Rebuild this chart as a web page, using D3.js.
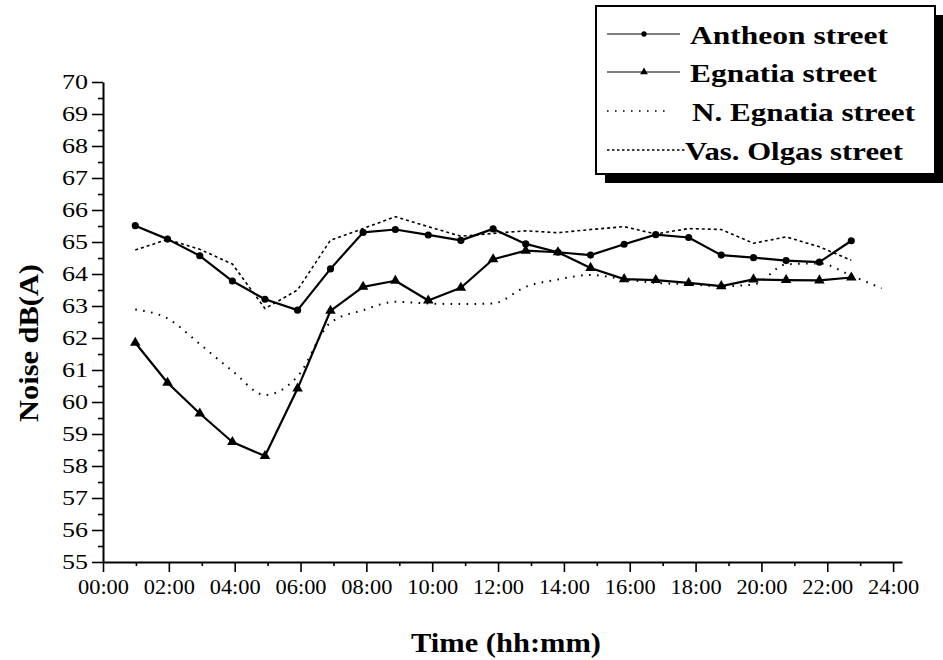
<!DOCTYPE html>
<html>
<head>
<meta charset="utf-8">
<script src="https://cdn.jsdelivr.net/npm/d3@7"></script>
<style>
  body { margin: 0; background: #fff; }
  svg { display: block; }
  text { font-family: "Liberation Serif", "Times New Roman", serif; }
</style>
</head>
<body>
<svg width="943" height="660"></svg>
<script>
const hours = [0.98, 1.96, 2.94, 3.93, 4.92, 5.91, 6.91, 7.90, 8.88, 9.88, 10.87, 11.85,
               12.84, 13.82, 14.81, 15.83, 16.79, 17.79, 18.78, 19.76, 20.75, 21.76, 22.73];
const hoursNE = [0.98, 1.96, 2.94, 3.93, 4.92, 5.91, 6.91, 7.90, 8.88, 9.88, 10.87, 11.85,
                 12.84, 13.82, 14.81, 15.83, 16.79, 17.79, 18.78, 19.76, 20.75, 21.76, 22.73, 23.65];

const antheon  = [65.51, 65.09, 64.57, 63.78, 63.21, 62.87, 64.16, 65.30, 65.39, 65.22, 65.05, 65.41,
                  64.94, 64.68, 64.59, 64.93, 65.23, 65.14, 64.59, 64.51, 64.42, 64.37, 65.04];
const egnatia  = [61.85, 60.60, 59.64, 58.75, 58.31, 60.42, 62.85, 63.60, 63.79, 63.17, 63.57, 64.46,
                  64.73, 64.68, 64.19, 63.84, 63.81, 63.72, 63.62, 63.83, 63.81, 63.80, 63.89];
const nEgnatia = [62.89, 62.61, 61.81, 60.97, 60.22, 60.80, 62.48, 62.87, 63.13, 63.08, 63.06, 63.08,
                  63.60, 63.83, 63.97, 63.84, 63.72, 63.68, 63.62, 63.67, 64.30, 64.33, 63.95, 63.55];
const vasOlgas = [64.75, 65.08, 64.77, 64.31, 62.92, 63.50, 65.06, 65.42, 65.79, 65.48, 65.18, 65.27,
                  65.35, 65.29, 65.39, 65.48, 65.25, 65.42, 65.39, 64.96, 65.16, 64.85, 64.43];

const seriesNames = ["Antheon street", "Egnatia street", "N. Egnatia street", "Vas. Olgas street"];

const xTicks = [0, 2, 4, 6, 8, 10, 12, 14, 16, 18, 20, 22, 24];
const xTickLabels = ["00:00", "02:00", "04:00", "06:00", "08:00", "10:00", "12:00",
                     "14:00", "16:00", "18:00", "20:00", "22:00", "24:00"];
const xMinor = [1, 3, 5, 7, 9, 11, 13, 15, 17, 19, 21, 23];
const yTicks = [55, 56, 57, 58, 59, 60, 61, 62, 63, 64, 65, 66, 67, 68, 69, 70];
const yMinor = [55.5, 56.5, 57.5, 58.5, 59.5, 60.5, 61.5, 62.5, 63.5, 64.5, 65.5, 66.5, 67.5, 68.5, 69.5];

(function (d3) {
    'use strict';

    const svg = d3.select('svg');
    const x = d3.scaleLinear().domain([0, 24.27]).range([103, 902]);
    const y = d3.scaleLinear().domain([55, 70]).range([562, 82]);

    const series = [
        { name: seriesNames[0], hrs: hours,   vals: antheon,  dash: null,     width: 2.2, curve: d3.curveLinear, marker: 'circle' },
        { name: seriesNames[1], hrs: hours,   vals: egnatia,  dash: null,     width: 2.2, curve: d3.curveLinear, marker: 'triangle' },
        { name: seriesNames[2], hrs: hoursNE, vals: nEgnatia, dash: '1.6,6.4', width: 2,   curve: d3.curveMonotoneX, marker: null },
        { name: seriesNames[3], hrs: hours,   vals: vasOlgas, dash: '3,3',     width: 1.6, curve: d3.curveLinear, marker: null }
    ];

    // axes
    const styleAxis = g => {
        g.attr('font-size', 20).attr('font-family', null);
        g.select('.domain').attr('stroke-width', 2);
        g.selectAll('.tick line').attr('stroke-width', 1.6);
    };

    svg.append('g')
        .attr('transform', 'translate(0,562)')
        .call(d3.axisBottom(x).tickValues(xMinor).tickSize(4).tickSizeOuter(0).tickFormat(''))
        .call(g => g.select('.domain').remove())
        .selectAll('.tick line').attr('stroke-width', 1.6);

    svg.append('g')
        .attr('transform', 'translate(103,0)')
        .call(d3.axisLeft(y).tickValues(yMinor).tickSize(5).tickSizeOuter(0).tickFormat(''))
        .call(g => g.select('.domain').remove())
        .selectAll('.tick line').attr('stroke-width', 1.6);

    svg.append('g')
        .attr('transform', 'translate(0,562)')
        .call(d3.axisBottom(x).tickValues(xTicks).tickSize(10).tickSizeOuter(0).tickPadding(8)
            .tickFormat((d, i) => xTickLabels[i]))
        .call(styleAxis)
        .selectAll('text')
        .attr('textLength', 51).attr('lengthAdjust', 'spacingAndGlyphs');

    svg.append('g')
        .attr('transform', 'translate(103,0)')
        .call(d3.axisLeft(y).tickValues(yTicks).tickSize(11).tickSizeOuter(0).tickPadding(4))
        .call(styleAxis)
        .selectAll('text')
        .attr('textLength', 26).attr('lengthAdjust', 'spacingAndGlyphs');

    // axis titles
    svg.append('text')
        .attr('x', 506).attr('y', 652)
        .attr('text-anchor', 'middle')
        .attr('font-size', 27).attr('font-weight', 'bold')
        .attr('textLength', 190).attr('lengthAdjust', 'spacingAndGlyphs')
        .text('Time (hh:mm)');

    svg.append('text')
        .attr('transform', 'translate(38,343) rotate(-90)')
        .attr('text-anchor', 'middle')
        .attr('font-size', 27).attr('font-weight', 'bold')
        .attr('textLength', 158).attr('lengthAdjust', 'spacingAndGlyphs')
        .text('Noise dB(A)');

    // lines
    series.forEach(s => {
        const pts = s.vals.map((v, i) => [s.hrs[i], v]);
        const line = d3.line().x(d => x(d[0])).y(d => y(d[1])).curve(s.curve);
        svg.append('path')
            .datum(pts)
            .attr('fill', 'none')
            .attr('stroke', '#000')
            .attr('stroke-width', s.width)
            .attr('stroke-dasharray', s.dash)
            .attr('stroke-linecap', s.dash ? 'butt' : 'round')
            .attr('stroke-linejoin', 'round')
            .attr('d', line);

        if (s.marker) {
            const sym = d3.symbol()
                .type(s.marker === 'circle' ? d3.symbolCircle : d3.symbolTriangle)
                .size(s.marker === 'circle' ? 40 : 48);
            svg.append('g').selectAll('path').data(pts)
                .enter().append('path')
                .attr('transform', d => `translate(${x(d[0])},${y(d[1])})`)
                .attr('d', sym)
                .attr('fill', '#000');
        }
    });

    // legend with drop shadow
    const lg = svg.append('g');
    lg.append('rect').attr('x', 605).attr('y', 15).attr('width', 339).attr('height', 168).attr('fill', '#000');
    lg.append('rect').attr('x', 596).attr('y', 6).attr('width', 339).attr('height', 168)
        .attr('fill', '#fff').attr('stroke', '#000').attr('stroke-width', 2);

    const rowY = [34, 72, 111, 150];
    const textX = [690, 690, 692, 685];
    const textW = [198, 187, 223, 218];
    const sampleEnd = [680, 680, 670, 685];

    series.forEach((s, i) => {
        lg.append('line')
            .attr('x1', 607).attr('x2', sampleEnd[i])
            .attr('y1', rowY[i]).attr('y2', rowY[i])
            .attr('stroke', '#000')
            .attr('stroke-width', s.dash ? 1.6 : 1.2)
            .attr('stroke-dasharray', s.dash === '3,3' ? '2.5,2.5' : s.dash);
        if (s.marker) {
            lg.append('path')
                .attr('transform', `translate(644,${rowY[i]})`)
                .attr('d', d3.symbol().type(s.marker === 'circle' ? d3.symbolCircle : d3.symbolTriangle)
                    .size(s.marker === 'circle' ? 22 : 26))
                .attr('fill', '#000');
        }
        lg.append('text')
            .attr('x', textX[i]).attr('y', rowY[i] + 10)
            .attr('font-size', 26).attr('font-weight', 'bold')
            .attr('textLength', textW[i]).attr('lengthAdjust', 'spacingAndGlyphs')
            .text(s.name);
    });
}(d3));
</script>
</body>
</html>
